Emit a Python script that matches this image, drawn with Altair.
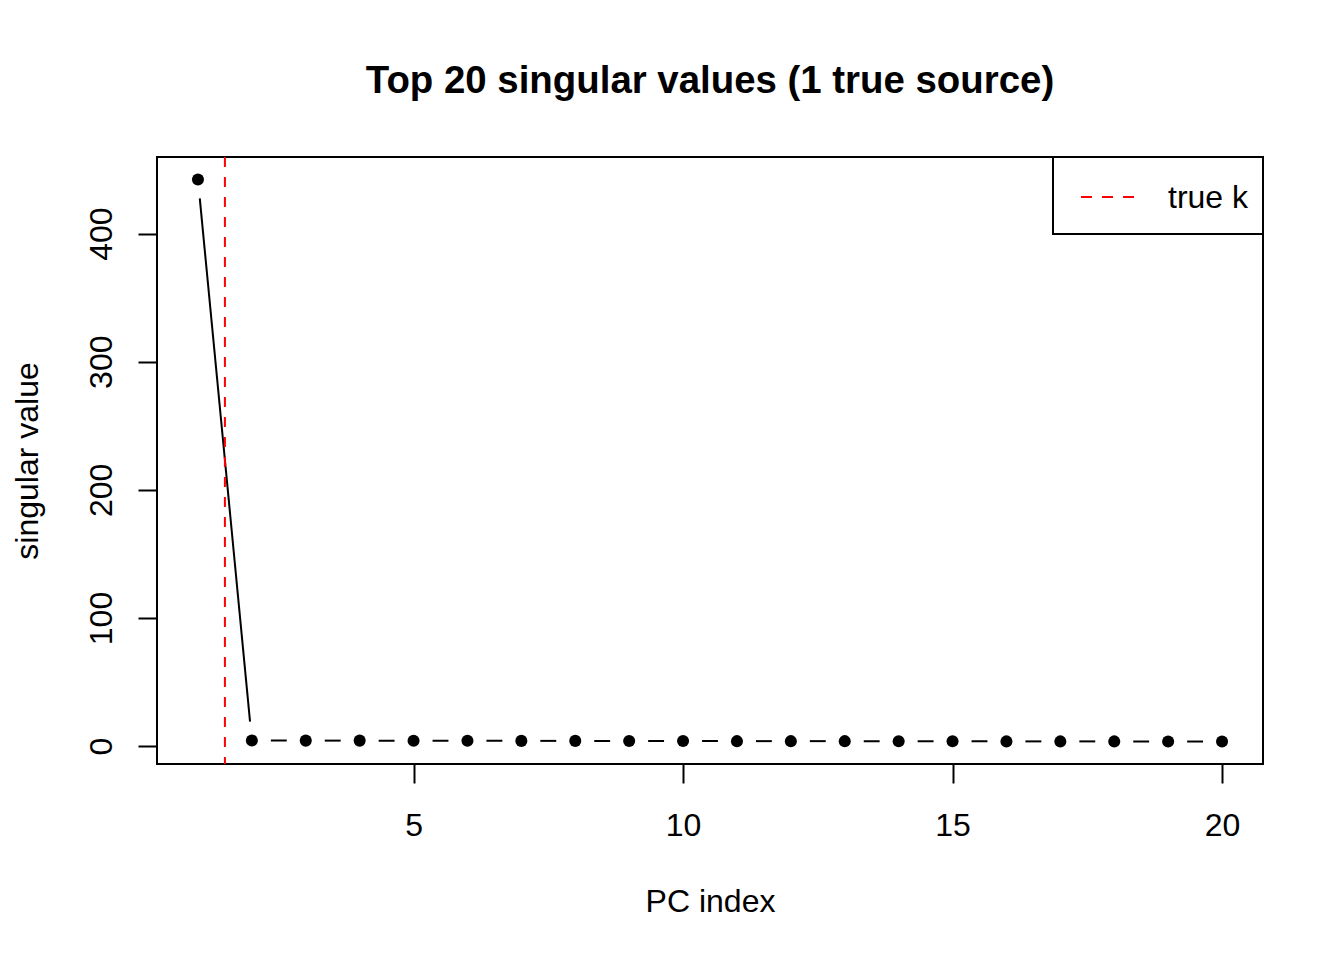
import altair as alt
import pandas as pd
import numpy as np

# ---- data ----
pc_index = list(range(1, 21))
singular_values = [442.2, 4.4, 4.3, 4.3, 4.2, 4.2, 4.1, 4.1, 4.0, 4.0,
                   3.9, 3.9, 3.9, 3.8, 3.8, 3.7, 3.7, 3.7, 3.6, 3.6]
true_k = [1.5]
x_ticks = [5, 10, 15, 20]
y_ticks = [0, 100, 200, 300, 400]
legend_label = ["true k"]

FONT = "Liberation Sans"
W, H = 1106, 607

# R-style 4% axis extension
xmin, xmax = min(pc_index), max(pc_index)
ymin, ymax = min(singular_values), max(singular_values)
xd = [xmin - 0.04 * (xmax - xmin), xmax + 0.04 * (xmax - xmin)]
yd = [ymin - 0.04 * (ymax - ymin), ymax + 0.04 * (ymax - ymin)]

pts = pd.DataFrame({"pc": pc_index, "sv": singular_values})

# type="b" segments: lines between points with a gap around each point
gap = 19.0
sx = W / (xd[1] - xd[0])
sy = H / (yd[1] - yd[0])
rows = []
for i in range(len(pc_index) - 1):
    x1, y1 = pc_index[i], singular_values[i]
    x2, y2 = pc_index[i + 1], singular_values[i + 1]
    L = np.hypot((x2 - x1) * sx, (y2 - y1) * sy)
    if L > 2 * gap:
        f = gap / L
        rows.append({
            "x1": x1 + f * (x2 - x1), "y1": y1 + f * (y2 - y1),
            "x2": x2 - f * (x2 - x1), "y2": y2 - f * (y2 - y1),
        })
segs = pd.DataFrame(rows)

xscale = alt.Scale(domain=xd, nice=False, zero=False)
yscale = alt.Scale(domain=yd, nice=False, zero=False)

x_axis = alt.Axis(values=x_ticks, labelPadding=27, titleX=W / 2, titleY=147,
                  titleAlign="center", titleBaseline="alphabetic")
y_axis = alt.Axis(values=y_ticks, labelAngle=270, labelAlign="center",
                  labelBaseline="alphabetic", labelPadding=27,
                  titleX=-120, titleY=H / 2, titleAngle=270,
                  titleAlign="center", titleBaseline="alphabetic")

segments = alt.Chart(segs).mark_rule(color="black", strokeWidth=2).encode(
    x=alt.X("x1:Q", scale=xscale, axis=x_axis, title="PC index"),
    x2="x2:Q",
    y=alt.Y("y1:Q", scale=yscale, axis=y_axis, title="singular value"),
    y2="y2:Q",
)

points = alt.Chart(pts).mark_circle(color="black", opacity=1, size=145).encode(
    x=alt.X("pc:Q", scale=xscale, title="PC index"),
    y=alt.Y("sv:Q", scale=yscale, title="singular value"),
)

vline = alt.Chart(pd.DataFrame({"k": true_k})).mark_rule(
    color="#FF0000", strokeWidth=2, strokeDash=[10, 10]
).encode(x=alt.X("k:Q", scale=xscale, title="PC index"))

leg_df = pd.DataFrame({"label": legend_label})
leg_box = alt.Chart(leg_df).mark_rect(fill="white", stroke="black", strokeWidth=2).encode(
    x=alt.value(896), x2=alt.value(W), y=alt.value(0), y2=alt.value(77)
)
leg_line = alt.Chart(leg_df).mark_rule(color="#FF0000", strokeWidth=2, strokeDash=[11, 10]).encode(
    x=alt.value(924), x2=alt.value(980), y=alt.value(40)
)
leg_text = alt.Chart(leg_df).mark_text(
    align="left", baseline="middle", fontSize=32, font=FONT, color="black"
).encode(x=alt.value(1011), y=alt.value(41), text="label:N")

chart = alt.layer(segments, points, vline, leg_box, leg_line, leg_text).properties(
    width=W, height=H,
    autosize=alt.AutoSizeParams(type="none"),
    padding={"left": 149, "top": 149, "right": 73, "bottom": 188},
    background="white",
    title=alt.Title("Top 20 singular values (1 true source)", fontSize=38.4,
                    fontWeight="bold", font=FONT, anchor="middle",
                    baseline="alphabetic", offset=25, color="black"),
).configure_view(stroke="black", strokeWidth=2).configure_axis(
    domain=False, grid=False, ticks=True, tickColor="black", tickWidth=2,
    tickSize=19, labelFont=FONT, labelFontSize=32, labelColor="black",
    titleFont=FONT, titleFontSize=32, titleFontWeight="normal", titleColor="black",
    labelOverlap=False,
)

chart.save("out.html", embed_options={"renderer": "svg", "actions": False})
